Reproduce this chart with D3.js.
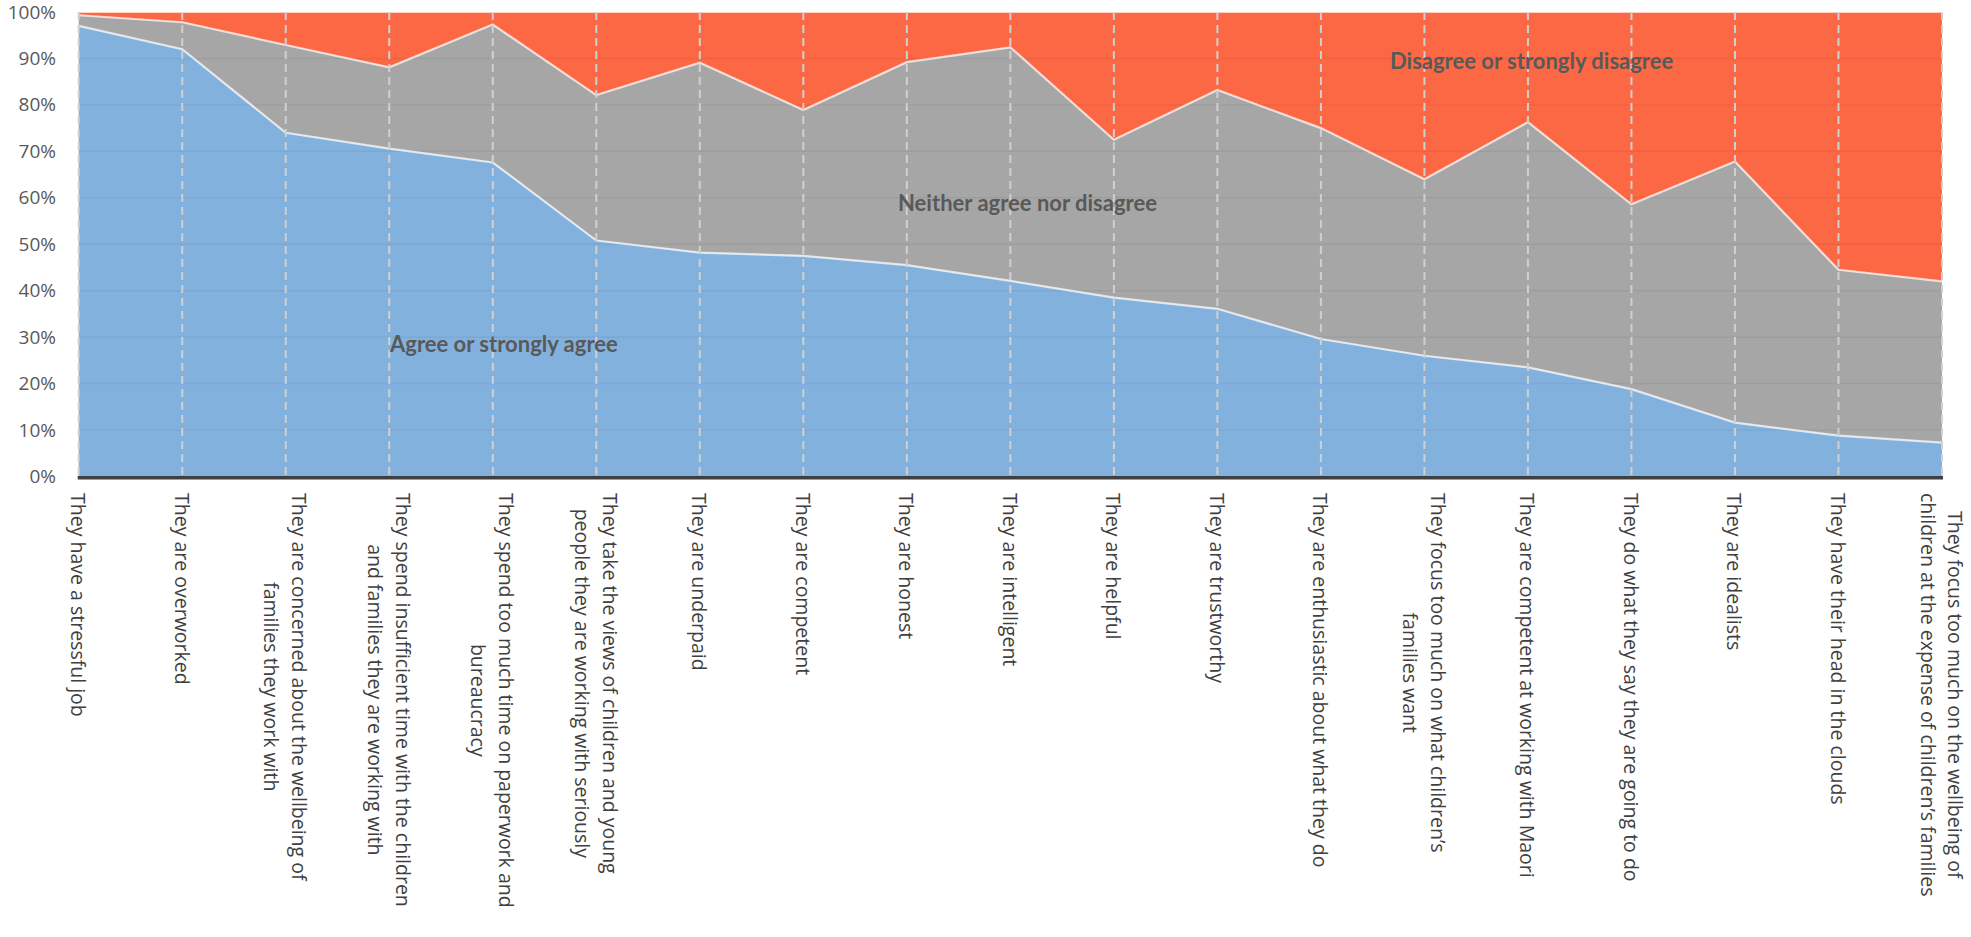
<!DOCTYPE html>
<html>
<head>
<meta charset="utf-8">
<script src="https://cdn.jsdelivr.net/npm/d3@7"></script>
<style>
  html, body { margin: 0; padding: 0; background: #fff; }
  svg { display: block; }
  .cat { font-family: "Open Sans", "Noto Sans", sans-serif; font-size: 19.5px; fill: #404040; }
  .ytick { font-family: "Open Sans", "Noto Sans", sans-serif; font-size: 19px; fill: #595959; }
  .slabel { font-family: Lato, sans-serif; font-weight: 700; font-size: 22px; fill: #595959; }
</style>
</head>
<body>
<svg id="chart" width="1971" height="937"></svg>
<script>
// ---- Data ----
const categories = [
  "They have a stressful job",
  "They are overworked",
  "They are concerned about the wellbeing of\nfamilies they work with",
  "They spend insufficient time with the children\nand families they are working with",
  "They spend too much time on paperwork and\nbureaucracy",
  "They take the views of children and young\npeople they are working with seriously",
  "They are underpaid",
  "They are competent",
  "They are honest",
  "They are intelligent",
  "They are helpful",
  "They are trustworthy",
  "They are enthusiastic about what they do",
  "They focus too much on what children\u2019s\nfamilies want",
  "They are competent at working with Maori",
  "They do what they say they are going to do",
  "They are idealists",
  "They have their head in the clouds",
  "They focus too much on the wellbeing of\nchildren at the expense of children\u2019s families"
];
const agree    = [97.0, 92.0, 74.0, 70.6, 67.6, 50.8, 48.2, 47.5, 45.5, 42.1, 38.5, 36.1, 29.6, 26.0, 23.5, 18.8, 11.6, 8.8, 7.3];
const neither  = [2.3, 5.8, 18.9, 17.5, 29.7, 31.3, 40.9, 31.4, 43.7, 50.3, 34.0, 47.1, 45.4, 38.0, 52.8, 39.8, 56.2, 35.7, 34.7];
const disagree = [0.7, 2.2, 7.1, 11.9, 2.7, 17.9, 10.9, 21.1, 10.8, 7.6, 27.5, 16.8, 25.0, 36.0, 23.7, 41.4, 32.2, 55.5, 58.0];
const seriesNames = ["Agree or strongly agree", "Neither agree nor disagree", "Disagree or strongly disagree"];
const yTicks = [0, 10, 20, 30, 40, 50, 60, 70, 80, 90, 100];

// ---- Layout ----
const svg = d3.select("#chart");
const xLeft = 78.7, xRight = 1942, yTop = 12, yBottom = 476.5;
const colors = ["#83b1dd", "#a6a6a6", "#fc6844"];

const rows = categories.map((c, i) => ({
  i: i,
  agree: agree[i],
  neither: neither[i],
  disagree: disagree[i]
}));
const keys = ["agree", "neither", "disagree"];

const x = d3.scalePoint().domain(d3.range(categories.length)).range([xLeft, xRight]);
const y = d3.scaleLinear().domain([0, 100]).range([yBottom, yTop]);

const stacked = d3.stack().keys(keys)(rows);

const area = d3.area()
  .x(d => x(d.data.i))
  .y0(d => y(d[0]))
  .y1(d => y(Math.min(100, d[1])));

const line = d3.line()
  .x(d => x(d.data.i))
  .y(d => y(Math.min(100, d[1])));

svg.append("g").selectAll("path")
  .data(stacked)
  .join("path")
  .attr("d", area)
  .attr("fill", (d, i) => colors[i]);

// horizontal gridlines showing through
svg.append("g").selectAll("line")
  .data(yTicks.filter(t => t > 0 && t < 100))
  .join("line")
  .attr("x1", xLeft).attr("x2", xRight)
  .attr("y1", d => y(d)).attr("y2", d => y(d))
  .attr("stroke", "#000")
  .attr("stroke-opacity", 0.05)
  .attr("stroke-width", 1.5);

// series outlines
svg.append("g").selectAll("path")
  .data(stacked)
  .join("path")
  .attr("d", line)
  .attr("fill", "none")
  .attr("stroke", "#ffffff")
  .attr("stroke-opacity", 0.7)
  .attr("stroke-width", 2.2);

// vertical dashed category gridlines
svg.append("g").selectAll("line")
  .data(d3.range(categories.length))
  .join("line")
  .attr("x1", d => x(d)).attr("x2", d => x(d))
  .attr("y1", yTop).attr("y2", yBottom)
  .attr("stroke", "#d0d0d0")
  .attr("stroke-width", 2)
  .attr("stroke-dasharray", "8,5");

// y axis labels
const yAxis = d3.axisLeft(y).tickValues(yTicks).tickFormat(d => d + "%").tickSize(0).tickPadding(0);
const yg = svg.append("g").attr("transform", `translate(56,0)`).call(yAxis);
yg.select(".domain").remove();
yg.selectAll("text")
  .attr("class", "ytick")
  .attr("font-family", null)
  .attr("font-size", null)
  .attr("fill", null);
yg.attr("font-family", null).attr("font-size", null);

// x axis baseline
svg.append("line")
  .attr("x1", xLeft - 1).attr("x2", xRight + 1)
  .attr("y1", yBottom + 1.2).attr("y2", yBottom + 1.2)
  .attr("stroke", "#404040")
  .attr("stroke-width", 3.6);

// category labels (rotated, multi-line centred)
const labelTop = 493;
const lineH = 27.7;
const lg = svg.append("g");
categories.forEach((c, i) => {
  const lines = c.split("\n");
  const g = lg.append("g").attr("transform", `translate(${x(i)},${labelTop}) rotate(90)`);
  const texts = lines.map((ln, k) => g.append("text")
    .attr("class", "cat")
    .attr("dominant-baseline", "central")
    .attr("y", (k - (lines.length - 1) / 2) * lineH)
    .text(ln));
  const widths = texts.map(t => t.node().getComputedTextLength());
  const maxW = d3.max(widths);
  texts.forEach((t, k) => t.attr("x", (maxW - widths[k]) / 2));
});

// in-chart series labels
const seriesLabelPos = [
  { x: 390, y: 351.5 },
  { x: 898, y: 211 },
  { x: 1390, y: 69 }
];
svg.append("g").selectAll("text")
  .data(seriesNames)
  .join("text")
  .attr("class", "slabel")
  .attr("x", (d, i) => seriesLabelPos[i].x)
  .attr("y", (d, i) => seriesLabelPos[i].y)
  .text(d => d);
</script>
</body>
</html>
